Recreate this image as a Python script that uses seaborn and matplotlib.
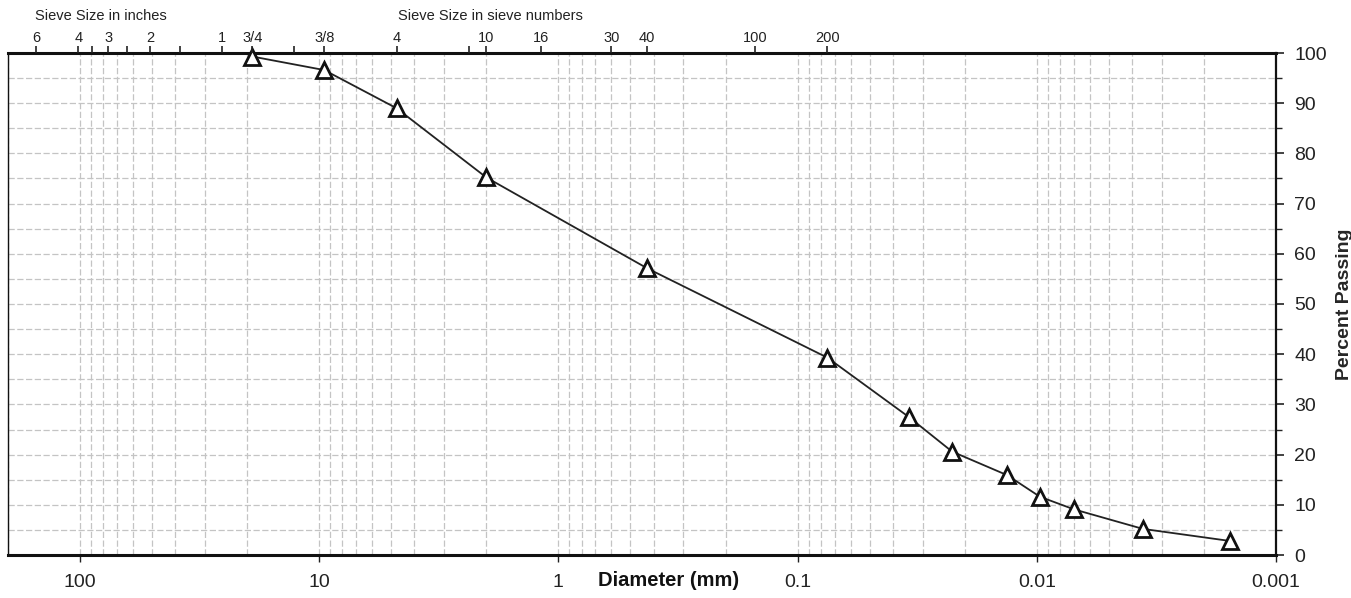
import matplotlib
matplotlib.use("Agg")
import matplotlib.pyplot as plt
import matplotlib.ticker as mticker
import numpy as np
import pandas as pd
import seaborn as sns

# ---- data ----
diameter_mm = [19.05, 9.525, 4.75, 2.0, 0.425, 0.075, 0.0343, 0.0226, 0.0133, 0.0097, 0.0070, 0.0036, 0.00156]
percent_passing = [99.3, 96.6, 89.0, 75.2, 57.1, 39.3, 27.5, 20.6, 15.9, 11.6, 9.1, 5.2, 2.8]

bottom_ticks = [100, 10, 1, 0.1, 0.01, 0.001]
bottom_labels = ["100", "10", "1", "0.1", "0.01", "0.001"]

sieve_in_pos = [152.4, 101.6, 88.9, 76.2, 63.5, 50.8, 38.1, 25.4, 19.05, 12.7, 9.525]
sieve_in_lab = ["6", "4", "", "3", "", "2", "", "1", "3/4", "", "3/8"]
sieve_no_pos = [4.75, 2.36, 2.0, 1.18, 0.6, 0.425, 0.15, 0.075]
sieve_no_lab = ["4", "", "10", "16", "30", "40", "100", "200"]

y_ticks = list(range(0, 101, 10))

df = pd.DataFrame({"Diameter (mm)": diameter_mm, "Percent Passing": percent_passing})

sns.set_style("white")
plt.rcParams["font.family"] = ["Liberation Sans", "DejaVu Sans"]

fig = plt.figure(figsize=(13.51, 5.98), dpi=100)
ax = fig.add_axes([8 / 1351, 1 - 555 / 598, (1276 - 8) / 1351, (555 - 53) / 598])
ax.set_xscale("log")
ax.set_xlim(200, 0.001)
ax.set_ylim(0, 100)

# grid
grid_kw = dict(color="#c4c4c4", linestyle=(0, (5, 2)), linewidth=0.9, zorder=0)
ax.xaxis.set_major_locator(mticker.FixedLocator(bottom_ticks))
ax.xaxis.set_minor_locator(mticker.LogLocator(base=10, subs=np.arange(2, 10)))
ax.xaxis.set_minor_formatter(mticker.NullFormatter())
ax.set_xticklabels(bottom_labels)
ax.grid(True, which="both", axis="x", **grid_kw)
ax.yaxis.set_major_locator(mticker.FixedLocator(y_ticks))
ax.yaxis.set_minor_locator(mticker.MultipleLocator(5))
ax.grid(True, which="both", axis="y", **grid_kw)
ax.set_axisbelow(True)

sns.lineplot(data=df, x="Diameter (mm)", y="Percent Passing", ax=ax, sort=False,
             estimator=None, color="#222222", linewidth=1.3, marker="^",
             markersize=11, markerfacecolor="white", markeredgecolor="#111111",
             markeredgewidth=2.0, zorder=5, clip_on=False)

ax.yaxis.tick_right()
ax.yaxis.set_label_position("right")
ax.tick_params(axis="y", which="major", direction="out", length=6, width=1.2,
               labelsize=14, pad=7, colors="#222222", right=True, left=False)
ax.tick_params(axis="y", which="minor", direction="out", length=4, width=1.0,
               right=True, left=False)
ax.tick_params(axis="x", which="major", direction="out", length=5, width=1.0,
               labelsize=14, pad=9, colors="#222222", bottom=True)
ax.tick_params(axis="x", which="minor", length=0)
ax.set_xlabel("")
ax.set_ylabel("Percent Passing", fontsize=14, fontweight="bold")
ax.yaxis.set_label_coords((1336 - 8) / 1268, 0.5)

for side, lw in [("top", 2.2), ("bottom", 2.2), ("right", 1.6), ("left", 1.0)]:
    ax.spines[side].set_visible(True)
    ax.spines[side].set_linewidth(lw)
    ax.spines[side].set_color("#111111")

# top sieve axis
top = ax.twiny()
top.set_xscale("log")
top.set_xlim(ax.get_xlim())
top.xaxis.set_major_locator(mticker.FixedLocator(sieve_in_pos + sieve_no_pos))
top.xaxis.set_minor_locator(mticker.NullLocator())
top.set_xticklabels(sieve_in_lab + sieve_no_lab)
top.tick_params(axis="x", direction="out", length=5, width=1.2, labelsize=10.5,
                pad=1, colors="#222222")
for s in top.spines.values():
    s.set_visible(False)
top.grid(False)

fig.text(35 / 1351, 1 - 16 / 598, "Sieve Size in inches", fontsize=10.5,
         ha="left", va="center", color="#222222")
fig.text(398 / 1351, 1 - 16 / 598, "Sieve Size in sieve numbers", fontsize=10.5,
         ha="left", va="center", color="#222222")
fig.text(669 / 1351, 1 - 581 / 598, "Diameter (mm)", fontsize=14.5,
         fontweight="bold", ha="center", va="center", color="#111111")

fig.savefig("out.png", dpi=100, facecolor="white")
